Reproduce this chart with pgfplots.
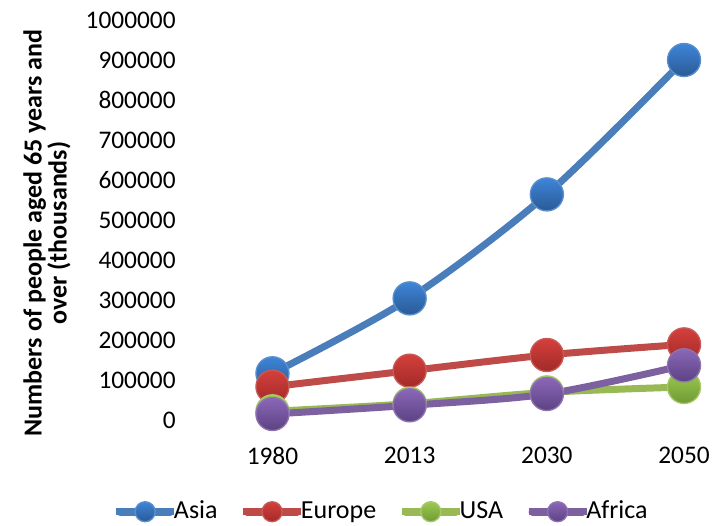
\documentclass[border=0pt]{standalone}
\usepackage{fontspec}
\setmainfont{Carlito}
\usepackage{pgfplots}
\pgfplotsset{compat=1.18}

% series colours: line, marker top, marker bottom, marker rim
\definecolor{asiaLine}{HTML}{4A7EBB}
\definecolor{asiaTop}{HTML}{3E85D8}
\definecolor{asiaBot}{HTML}{2A5A96}
\definecolor{asiaEdge}{HTML}{5B8FCC}
\definecolor{eurLine}{HTML}{BE4B48}
\definecolor{eurTop}{HTML}{D4403C}
\definecolor{eurBot}{HTML}{A22A28}
\definecolor{eurEdge}{HTML}{C85A57}
\definecolor{usaLine}{HTML}{98B954}
\definecolor{usaTop}{HTML}{9CCB4F}
\definecolor{usaBot}{HTML}{6F9A36}
\definecolor{usaEdge}{HTML}{A9C86B}
\definecolor{afrLine}{HTML}{7D60A0}
\definecolor{afrTop}{HTML}{8B67B8}
\definecolor{afrBot}{HTML}{5C4283}
\definecolor{afrEdge}{HTML}{8E74AE}

% glossy round markers with a vertical gradient
\pgfdeclareplotmark{asiaball}{\shade[top color=asiaTop, bottom color=asiaBot, draw=asiaEdge, line width=1pt] (0pt,0pt) circle (\pgfplotmarksize);}
\pgfdeclareplotmark{eurball}{\shade[top color=eurTop, bottom color=eurBot, draw=eurEdge, line width=1pt] (0pt,0pt) circle (\pgfplotmarksize);}
\pgfdeclareplotmark{usaball}{\shade[top color=usaTop, bottom color=usaBot, draw=usaEdge, line width=1pt] (0pt,0pt) circle (\pgfplotmarksize);}
\pgfdeclareplotmark{afrball}{\shade[top color=afrTop, bottom color=afrBot, draw=afrEdge, line width=1pt] (0pt,0pt) circle (\pgfplotmarksize);}

\begin{document}
\begin{tikzpicture}
\useasboundingbox (0pt,0pt) rectangle (540pt,393.75pt);
\begin{axis}[
  at={(152.9pt,78.75pt)}, anchor=south west,
  scale only axis, width=380.7pt, height=300pt,
  xmin=-0.5, xmax=3.2, ymin=0, ymax=1000000,
  clip=false,
  axis line style={draw=none},
  major tick length=0pt,
  xtick={0,1,2,3}, xticklabels={1980,2013,2030,2050},
  ytick={0,100000,200000,300000,400000,500000,600000,700000,800000,900000,1000000},
  scaled y ticks=false,
  /pgf/number format/fixed,
  /pgf/number format/1000 sep={},
  /pgf/number format/assume math mode=true,
  tick label style={font=\fontsize{19}{22}\selectfont},
  yticklabel style={anchor=east, inner sep=0pt, xshift=-21pt},
  xticklabel style={anchor=north, inner sep=0pt, yshift=-20pt},
  ylabel={Numbers of people aged 65 years and\\over (thousands)},
  ylabel style={at={(axis description cs:-0.309,0.4675)}, anchor=center, align=center,
    font=\bfseries\fontsize{19.5}{16}\selectfont},
  legend columns=4,
  legend style={at={(axis description cs:-0.1797,-0.229)}, anchor=west,
    draw=none, fill=none, inner sep=0pt, outer sep=0pt,
    font=\fontsize{19.5}{22}\selectfont, nodes={inner sep=0pt},
    cells={anchor=base},
    /tikz/every odd column/.append style={column sep=-2.75pt},
    /tikz/every even column/.append style={column sep=16.5pt}},
  legend image code/.code={
    \draw[#1, line width=6pt, line cap=round, mark=none] (3pt,5.25pt) -- (40.5pt,5.25pt);
    \path (0pt,5.25pt) -- (43.5pt,5.25pt);
    \draw[#1, mark size=7.5pt] plot[only marks] coordinates {(21.75pt,5.25pt)};
  },
  every axis plot/.append style={line width=5.25pt, smooth, line join=round},
]
\addplot[color=asiaLine, mark=asiaball, mark size=12.4pt]
  coordinates {(0,116700) (1,304000) (2,564000) (3,900000)};
\addlegendentry{Asia}
\addplot[color=eurLine, mark=eurball, mark size=12.4pt]
  coordinates {(0,83300) (1,123300) (2,162500) (3,189000)};
\addlegendentry{Europe}
\addplot[color=usaLine, mark=usaball, mark size=12.4pt]
  coordinates {(0,21700) (1,40800) (2,69000) (3,82500)};
\addlegendentry{USA}
\addplot[color=afrLine, mark=afrball, mark size=12.4pt]
  coordinates {(0,15000) (1,36700) (2,65000) (3,136700)};
\addlegendentry{Africa}
\end{axis}
\end{tikzpicture}
\end{document}
